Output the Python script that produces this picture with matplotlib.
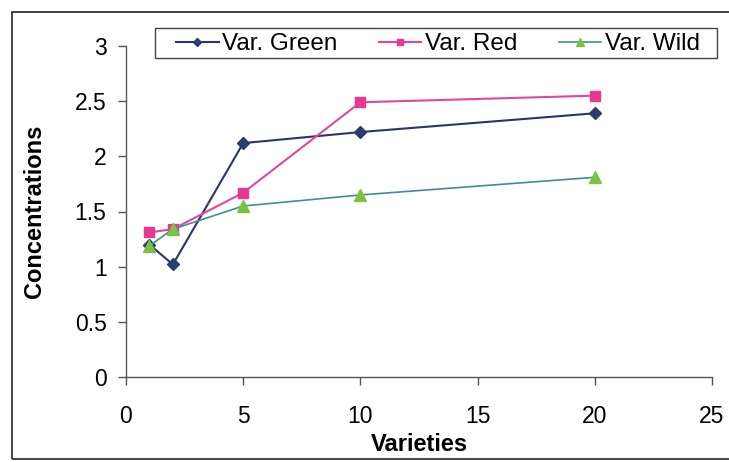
import matplotlib
matplotlib.use('Agg')
import matplotlib.pyplot as plt
from matplotlib.patches import Rectangle

plt.rcParams['font.family'] = ['Liberation Sans', 'DejaVu Sans']

# data
varieties = [1, 2, 5, 10, 20]
green = [1.20, 1.02, 2.12, 2.22, 2.39]
red = [1.31, 1.34, 1.67, 2.49, 2.55]
wild = [1.19, 1.34, 1.55, 1.65, 1.81]

fig = plt.figure(figsize=(7.29, 4.62), dpi=100)
ax = fig.add_axes([126 / 729, 1 - 377 / 462, (712 - 126) / 729, (377 - 46) / 462])

# outer chart border
fig.patches.append(Rectangle((12 / 729, 3 / 462), 1.2, 1 - 15 / 462, transform=fig.transFigure,
                             fill=False, edgecolor='#333333', linewidth=1.3))

ax.plot(varieties, green, color='#2b3566', marker='D', markersize=6.5,
        markerfacecolor='#2b3d70', markeredgecolor='#2b3d70', linewidth=1.5, label='Var. Green')
ax.plot(varieties, red, color='#e0489a', marker='s', markersize=6.5,
        markerfacecolor='#e8388f', markeredgecolor='#e8388f', linewidth=1.5, label='Var. Red')
ax.plot(varieties, wild, color='#3f8f92', marker='^', markersize=8,
        markerfacecolor='#7cc242', markeredgecolor='#7cc242', linewidth=1.2, label='Var. Wild')

ax.set_xlim(0, 25)
ax.set_ylim(0, 3)
ax.set_xticks([0, 5, 10, 15, 20, 25])
ax.set_yticks([0, 0.5, 1, 1.5, 2, 2.5, 3])
ax.set_yticklabels(['0', '0.5', '1', '1.5', '2', '2.5', '3'])
ax.tick_params(labelsize=16.5, length=6, color='#555555', width=1)
ax.tick_params(axis='x', pad=14)
ax.tick_params(axis='y', pad=8)
for s in ['top', 'right']:
    ax.spines[s].set_visible(False)
for s in ['left', 'bottom']:
    ax.spines[s].set_color('#555555')
    ax.spines[s].set_linewidth(1)
ax.patch.set_alpha(0)

ax.set_xlabel('Varieties', fontsize=17, fontweight='bold', labelpad=4)
ax.set_ylabel('Concentrations', fontsize=17, fontweight='bold', labelpad=21)

# legend entries without frame, box drawn separately so the left padding matches
leg = fig.legend(*ax.get_legend_handles_labels(), loc='center left',
                 bbox_to_anchor=(176 / 729, 1 - 44 / 462), ncol=3, fontsize=17.5,
                 frameon=False, handlelength=1.75,
                 handletextpad=0.15, columnspacing=1.7, borderpad=0, borderaxespad=0,
                 markerscale=0.7)
fig.patches.append(Rectangle((155 / 729, 1 - 58 / 462), (717 - 155) / 729, 30 / 462,
                             transform=fig.transFigure, fill=False,
                             edgecolor='#444444', linewidth=1))

fig.savefig('out.png', dpi=100)
